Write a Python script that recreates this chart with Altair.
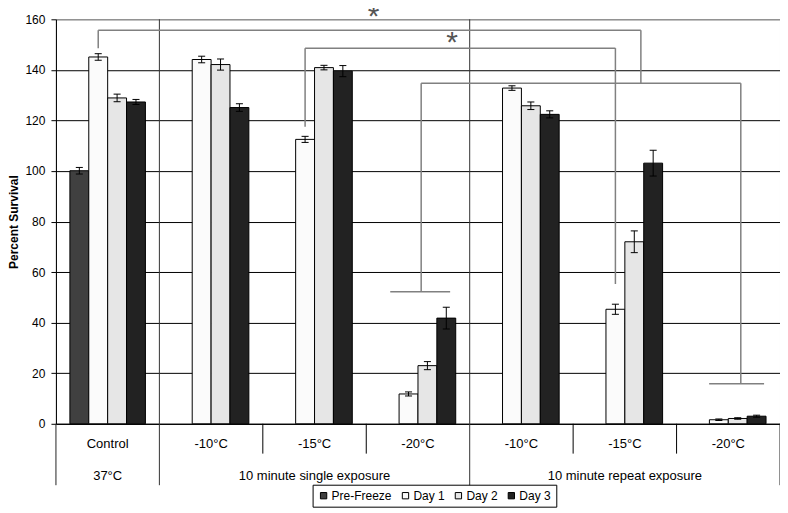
import altair as alt
import pandas as pd

# ---------------- data ----------------
groups = ["Control", "-10°C", "-15°C", "-20°C", "-10°C", "-15°C", "-20°C"]
conditions = ["37°C", "10 minute single exposure", "10 minute repeat exposure"]
condition_first = [0, 1, 4]
condition_last = [1, 4, 7]
series = ["Pre-Freeze", "Day 1", "Day 2", "Day 3"]
pre_freeze = [100.1, None, None, None, None, None, None]
day1 = [145.1, 144.1, 112.5, 11.8, 132.8, 45.3, 1.6]
day2 = [128.9, 142.1, 140.9, 23.0, 125.8, 72.0, 2.1]
day3 = [127.3, 125.1, 139.5, 41.8, 122.4, 103.1, 3.0]
pre_err = [1.3, None, None, None, None, None, None]
day1_err = [1.3, 1.3, 1.2, 0.8, 0.9, 2.0, 0.3]
day2_err = [1.5, 2.2, 0.9, 1.6, 1.5, 4.3, 0.3]
day3_err = [1.0, 1.5, 2.2, 4.3, 1.4, 5.1, 0.4]
y_ticks = [0, 20, 40, 60, 80, 100, 120, 140, 160]
colors = ["#404040", "#fbfbfb", "#e6e6e6", "#222222"]

values = [pre_freeze, day1, day2, day3]
errors = [pre_err, day1_err, day2_err, day3_err]

# bar layout inside each category slot (in category units)
OFF = 0.135
BW = 0.1825
CAP = 0.034

rows = []
for s, name in enumerate(series):
    for g in range(len(groups)):
        v = values[s][g]
        if v is None:
            continue
        e = errors[s][g]
        x0 = g + OFF + s * BW
        xc = x0 + BW / 2
        rows.append(dict(series=name, g=g, x0=x0, x1=x0 + BW, xc=xc,
                         cl=xc - CAP, cr=xc + CAP,
                         v=v, zero=0, lo=v - e, hi=v + e))
bars_df = pd.DataFrame(rows)

def center(g, s):
    return g + OFF + s * BW + BW / 2

# significance brackets (annotation)
L1, L2, L3 = 155.7, 148.6, 134.7
segs = [
    # control day1 -> midpoint of the -20 bracket
    (center(0, 1), 148.6, center(0, 1), L1),
    (center(0, 1), L1, 5.655, L1),
    (5.655, L1, 5.655, L3),
    # -20 single vs -20 repeat
    (3.531, L3, 6.621, L3),
    (3.531, L3, 3.531, 52.2),
    (3.232, 52.2, 3.811, 52.2),
    (6.621, L3, 6.621, 15.8),
    (6.315, 15.8, 6.846, 15.8),
    # -15 single day1 vs -15 repeat day1
    (center(2, 1), 117.5, center(2, 1), L2),
    (center(2, 1), L2, center(5, 1), L2),
    (center(5, 1), L2, center(5, 1), 55.3),
]
seg_df = pd.DataFrame(segs, columns=["x", "y", "x2", "y2"])
stars_df = pd.DataFrame({"x": [3.07, 3.83], "y": [157.2, 147.0], "t": ["*", "*"]})

# category axis pieces
lab1_df = pd.DataFrame({"x": [g + 0.5 for g in range(len(groups))], "t": groups, "y": -8.1})
lab2_df = pd.DataFrame({"x": [(a + b) / 2 for a, b in zip(condition_first, condition_last)],
                        "t": conditions, "y": -20.7})
div_small = pd.DataFrame({"x": [2, 3, 5, 6], "y": 0, "y2": -11.8})
div_big = pd.DataFrame({"x": [0, 7], "y": 0, "y2": -24.3})
div_full = pd.DataFrame({"x": [1, 4], "y": 160, "y2": -24.3})

FONT = "Liberation Sans"

xscale = alt.Scale(domain=[0, 7], nice=False, zero=False)
yscale = alt.Scale(domain=[0, 160], nice=False)
xaxis = alt.Axis(labels=False, ticks=False, grid=False, domainColor="black", title=None)
yaxis = alt.Axis(values=y_ticks, title="Percent Survival", grid=True,
                 gridColor={"condition": {"test": "datum.value === 160", "value": "#888888"},
                            "value": "black"},
                 domainColor="black", tickColor="black", tickSize=5,
                 labelFontSize=12, labelColor="black", labelPadding=6,
                 titleFontSize=12, titleFontWeight="bold", titleColor="black",
                 titlePadding=4)


def X(f):
    return alt.X(f, type="quantitative", scale=xscale, axis=xaxis)


def Y(f):
    return alt.Y(f, type="quantitative", scale=yscale, axis=yaxis)


bars = alt.Chart(bars_df).mark_rect(stroke="black", strokeWidth=1).encode(
    x=X("x0"), x2="x1", y=Y("v"), y2="zero",
    fill=alt.Fill("series:N", scale=alt.Scale(domain=series, range=colors),
                  legend=alt.Legend(orient="none", legendX=257, legendY=466,
                                    direction="horizontal", title=None,
                                    strokeColor="black", padding=5,
                                    symbolType="square", symbolSize=40,
                                    symbolStrokeColor="black", symbolStrokeWidth=1,
                                    labelFontSize=12, labelColor="black",
                                    labelFont=FONT, columnPadding=7, labelOffset=2)),
)
err = alt.Chart(bars_df).mark_rule(color="black", strokeWidth=1).encode(
    x=X("xc"), y=Y("lo"), y2="hi")
cap_lo = alt.Chart(bars_df).mark_rule(color="black", strokeWidth=1).encode(
    x=X("cl"), x2="cr", y=Y("lo"))
cap_hi = alt.Chart(bars_df).mark_rule(color="black", strokeWidth=1).encode(
    x=X("cl"), x2="cr", y=Y("hi"))

brackets = alt.Chart(seg_df).mark_rule(color="#808080", strokeWidth=1.5).encode(
    x=X("x"), x2="x2", y=Y("y"), y2="y2")
stars = alt.Chart(stars_df).mark_text(fontSize=30, color="#555555", font=FONT,
                                      align="center", baseline="alphabetic").encode(
    x=X("x"), y=Y("y"), text="t:N")

lab1 = alt.Chart(lab1_df).mark_text(fontSize=13, color="black", font=FONT,
                                    baseline="middle").encode(
    x=X("x"), y=Y("y"), text="t:N")
lab2 = alt.Chart(lab2_df).mark_text(fontSize=13, color="black", font=FONT,
                                    baseline="middle").encode(
    x=X("x"), y=Y("y"), text="t:N")
d_small = alt.Chart(div_small).mark_rule(color="black", strokeWidth=1).encode(
    x=X("x"), y=Y("y"), y2="y2")
d_big = alt.Chart(div_big).mark_rule(color="#222222", strokeWidth=1).encode(
    x=X("x"), y=Y("y"), y2="y2")
d_full = alt.Chart(div_full).mark_rule(color="#333333", strokeWidth=1).encode(
    x=X("x"), y=Y("y"), y2="y2")

chart = alt.layer(
    d_full, bars, err, cap_lo, cap_hi, brackets, stars, lab1, lab2, d_small, d_big
).properties(
    width=725, height=405,
    autosize=alt.AutoSizeParams(type="none"),
    padding={"left": 48, "top": 11, "right": 0, "bottom": 85},
).configure(font=FONT).configure_view(stroke="#888888", strokeWidth=1)

chart.save("out.html", embed_options={"renderer": "svg", "actions": False})
